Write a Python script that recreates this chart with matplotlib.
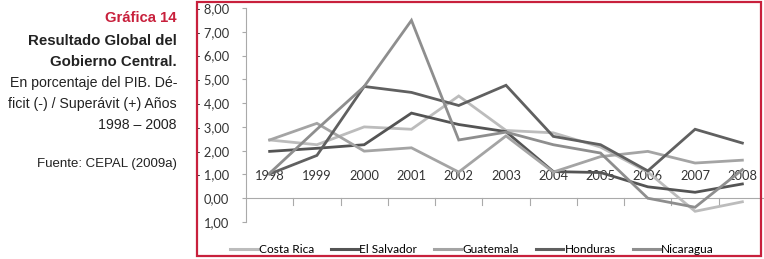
import matplotlib
matplotlib.use("Agg")
import matplotlib.pyplot as plt
from matplotlib.lines import Line2D
from matplotlib.patches import Rectangle

years = ["1998", "1999", "2000", "2001", "2002", "2003", "2004", "2005", "2006", "2007", "2008"]
costa_rica = [-2.45, -2.25, -3.0, -2.9, -4.3, -2.85, -2.75, -2.15, -1.1, 0.55, 0.15]
el_salvador = [-1.97, -2.1, -2.25, -3.58, -3.1, -2.8, -1.12, -1.08, -0.48, -0.25, -0.6]
guatemala = [-2.45, -3.15, -1.98, -2.12, -1.1, -2.62, -1.1, -1.75, -1.97, -1.48, -1.6]
honduras = [-1.02, -1.8, -4.7, -4.45, -3.9, -4.75, -2.6, -2.25, -1.15, -2.9, -2.32]
nicaragua = [-1.05, -2.9, -4.7, -7.48, -2.45, -2.78, -2.25, -1.9, 0.0, 0.38, -1.2]

series = [
    ("Costa Rica", costa_rica, "#bcbcbc"),
    ("El Salvador", el_salvador, "#545454"),
    ("Guatemala", guatemala, "#a4a4a4"),
    ("Honduras", honduras, "#606060"),
    ("Nicaragua", nicaragua, "#8e8e8e"),
]
yticks = [-8, -7, -6, -5, -4, -3, -2, -1, 0, 1]


def fmt(v):
    s = ("%.2f" % abs(v)).replace(".", ",")
    return "- " + s if v < 0 else s


W, H = 764, 259
fig = plt.figure(figsize=(W / 100, H / 100), dpi=100)
RED = "#c8203c"

# frame
fig.add_artist(Rectangle((197 / W, 3 / H), (761 - 197) / W, (257 - 3) / H,
                         transform=fig.transFigure, fill=False, edgecolor=RED, linewidth=1.6))

# left text
tx = 177 / W
fig.text(tx, 1 - 18 / H, "Gráfica 14", ha="right", va="center", color=RED,
         fontsize=10.7, fontweight="bold", family="Liberation Sans")
for y, s in [(41, "Resultado Global del"), (62, "Gobierno Central.")]:
    fig.text(tx, 1 - y / H, s, ha="right", va="center", color="#222222",
             fontsize=10.8, fontweight="bold", family="Liberation Sans")
for y, s in [(83, "En porcentaje del PIB. Dé-"), (104, "ficit (-) / Superávit (+) Años"),
             (125, "1998 – 2008")]:
    fig.text(tx, 1 - y / H, s, ha="right", va="center", color="#222222",
             fontsize=10.2, family="Liberation Sans")
fig.text(tx, 1 - 164 / H, "Fuente: CEPAL (2009a)", ha="right", va="center", color="#222222",
         fontsize=9.5, family="Liberation Sans")

# axes: left 246, right 766, top y=8 (value -8), bottom y=222 (value 1)
ax = fig.add_axes([246 / W, 1 - 222 / H, (766 - 246) / W, (222 - 8) / H])
ax.set_facecolor("none")
x = list(range(len(years)))
for name, vals, col in series:
    ax.plot(x, vals, color=col, linewidth=2.0, label=name, solid_joinstyle="miter", zorder=3)

ax.set_xlim(-0.5, len(years) - 0.5)
ax.set_ylim(1, -8)
ax.set_yticks(yticks)
ax.set_yticklabels([fmt(v) for v in yticks], family="Lato", fontsize=9.3, color="#333333")
ax.tick_params(axis="y", length=3, width=0.8, color="#aaaaaa", pad=9)
for s in ["top", "right", "bottom"]:
    ax.spines[s].set_visible(False)
ax.spines["left"].set_color("#aaaaaa")
ax.spines["left"].set_linewidth(0.8)
ax.set_xticks([])
# zero axis line with ticks between categories
ax.axhline(0, color="#aaaaaa", linewidth=0.8, zorder=1)
for i in range(len(years) - 1):
    ax.plot([i + 0.5, i + 0.5], [0, 0.28], color="#aaaaaa", linewidth=0.8, zorder=1)
for i, yl in enumerate(years):
    ax.text(i, -0.95, yl, ha="center", va="center", family="Lato", fontsize=9.3,
            color="#333333", zorder=2)

handles = [Line2D([0], [0], color=c, linewidth=2.2) for _, _, c in series]
fig.legend(handles, [n for n, _, _ in series], loc="center", bbox_to_anchor=(472 / W, 1 - 249.5 / H),
           ncol=5, frameon=False, prop={"family": "Lato", "size": 8.6},
           handlelength=2.3, handletextpad=0.1, columnspacing=1.4, borderaxespad=0)

fig.savefig("out.png", dpi=100)
